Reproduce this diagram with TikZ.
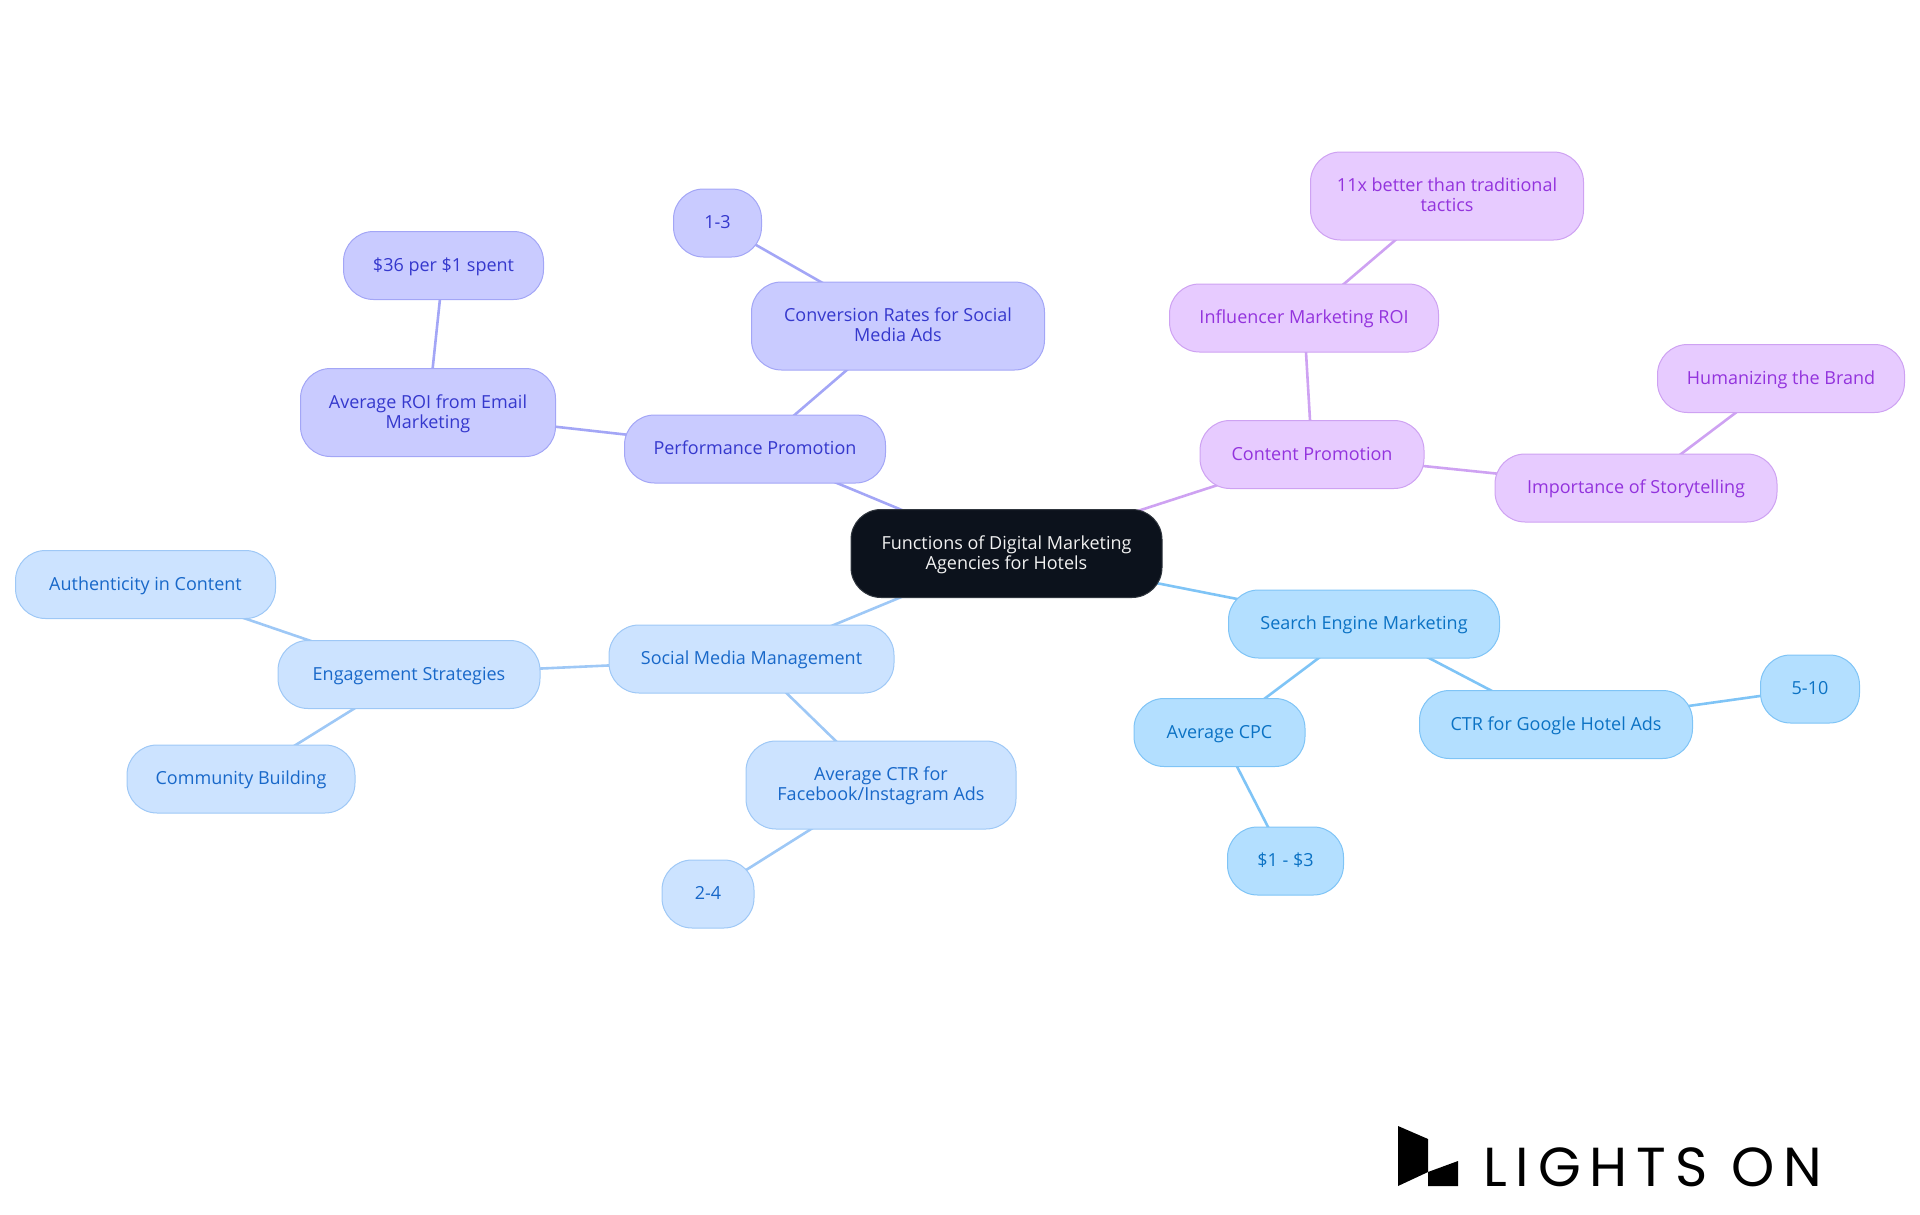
\documentclass[tikz,border=0pt]{standalone}
\usepackage{fontspec}
\setmainfont{Open Sans}
\newfontfamily\logofont[LetterSpace=16.2]{Poppins}
\usetikzlibrary{backgrounds}
\definecolor{rootfill}{HTML}{0C121C}
\definecolor{skyfill}{HTML}{B3DFFF}\definecolor{skyline}{HTML}{7FC4F6}\definecolor{skytext}{HTML}{0B72C4}
\definecolor{bluefill}{HTML}{CCE3FF}\definecolor{blueline}{HTML}{9EC8F6}\definecolor{bluetext}{HTML}{1868C9}
\definecolor{indfill}{HTML}{C9CBFF}\definecolor{indline}{HTML}{A3A6F6}\definecolor{indtext}{HTML}{3538CD}
\definecolor{purfill}{HTML}{E7CBFF}\definecolor{purline}{HTML}{CEA2F2}\definecolor{purtext}{HTML}{9333DD}
\tikzset{
  x=1pt,y=-1pt,
  box/.style={rectangle,rounded corners=30pt,line width=1pt,inner sep=0pt,align=center,
    font=\fontsize{18}{20}\selectfont,text height=14pt,text depth=2.5pt,minimum height=68pt},
  two/.style={text height=34pt,minimum height=88pt},
  root/.style={box,two,fill=rootfill,draw=rootfill!85!white,text=white!95!black},
  sky/.style={box,fill=skyfill,draw=skyline,text=skytext},
  blu/.style={box,fill=bluefill,draw=blueline,text=bluetext},
  ind/.style={box,fill=indfill,draw=indline,text=indtext},
  pur/.style={box,fill=purfill,draw=purline,text=purtext},
  skyc/.style={line width=2.6pt,draw=skyline},
  bluc/.style={line width=2.6pt,draw=blueline},
  indc/.style={line width=2.6pt,draw=indline},
  purc/.style={line width=2.6pt,draw=purline},
}
\begin{document}
\begin{tikzpicture}
\useasboundingbox (0,0) rectangle (1920,1215);
\node[root,minimum width=311pt] (r) at (1006.5,553.5) {Functions of Digital Marketing\\Agencies for Hotels};
% performance
\node[ind,minimum width=261pt] (pp) at (755,449) {Performance Promotion};
\node[ind,two,minimum width=293pt] (cr) at (898,326) {Conversion Rates for Social\\Media Ads};
\node[ind,minimum width=88pt] (c13) at (717.5,223) {1-3};
\node[ind,two,minimum width=255pt] (roi) at (428,412.5) {Average ROI from Email\\Marketing};
\node[ind,minimum width=200pt] (d36) at (443.5,265.5) {\$36 per \$1 spent};
% content
\node[pur,minimum width=224pt] (cp) at (1312,454.5) {Content Promotion};
\node[pur,minimum width=269pt] (inf) at (1304,318) {Influencer Marketing ROI};
\node[pur,two,minimum width=273pt] (x11) at (1447,196) {11x better than traditional\\tactics};
\node[pur,minimum width=282pt] (sto) at (1636,488) {Importance of Storytelling};
\node[pur,minimum width=247pt] (hum) at (1781,378.5) {Humanizing the Brand};
% search
\node[sky,minimum width=271pt] (se) at (1364,624) {Search Engine Marketing};
\node[sky,minimum width=171pt] (cpc) at (1219.5,732.5) {Average CPC};
\node[sky,minimum width=116pt] (d13) at (1285.5,861) {\$1 - \$3};
\node[sky,minimum width=273pt] (ctr) at (1556,724.5) {CTR for Google Hotel Ads};
\node[sky,minimum width=99pt] (c510) at (1810,689) {5-10};
% social
\node[blu,minimum width=285pt] (sm) at (751.5,659) {Social Media Management};
\node[blu,minimum width=262pt] (en) at (409,674.5) {Engagement Strategies};
\node[blu,minimum width=260pt] (au) at (145.5,584.5) {Authenticity in Content};
\node[blu,minimum width=228pt] (co) at (241,779) {Community Building};
\node[blu,two,minimum width=270pt] (fb) at (881,785) {Average CTR for\\Facebook/Instagram Ads};
\node[blu,minimum width=92pt] (c24) at (708,894) {2-4};
\begin{scope}[on background layer]
\draw[indc] (r.center)--(pp.center);
\draw[indc] (pp.center)--(cr.center);
\draw[indc] (cr.center)--(c13.center);
\draw[indc] (pp.center)--(roi.center);
\draw[indc] (roi.center)--(d36.center);
\draw[purc] (r.center)--(cp.center);
\draw[purc] (cp.center)--(inf.center);
\draw[purc] (inf.center)--(x11.center);
\draw[purc] (cp.center)--(sto.center);
\draw[purc] (sto.center)--(hum.center);
\draw[skyc] (r.center)--(se.center);
\draw[skyc] (se.center)--(cpc.center);
\draw[skyc] (cpc.center)--(d13.center);
\draw[skyc] (se.center)--(ctr.center);
\draw[skyc] (ctr.center)--(c510.center);
\draw[bluc] (r.center)--(sm.center);
\draw[bluc] (sm.center)--(en.center);
\draw[bluc] (en.center)--(au.center);
\draw[bluc] (en.center)--(co.center);
\draw[bluc] (sm.center)--(fb.center);
\draw[bluc] (fb.center)--(c24.center);
\end{scope}
% logo
\fill[black] (1398,1126)--(1428,1139)--(1428,1172)--(1398,1186)--cycle;
\fill[black] (1428,1172)--(1458,1161)--(1458,1186)--(1428,1186)--cycle;
\node[anchor=base west,inner sep=0pt,font=\logofont\fontsize{55}{55}\selectfont,text=black] (logo) at (1483,1186) {LIGHTS ON};
\end{tikzpicture}
\end{document}
